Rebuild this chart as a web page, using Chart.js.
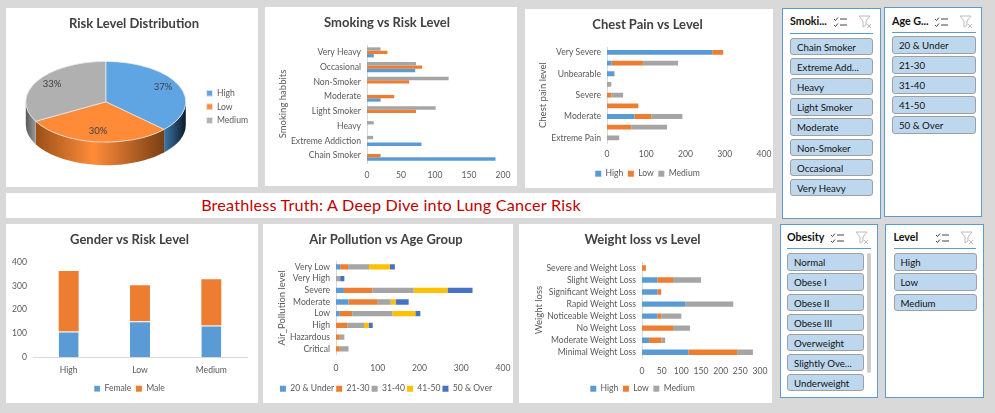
<!DOCTYPE html>
<html>
<head>
<meta charset="utf-8">
<title>Breathless Truth</title>
<script src="https://cdn.jsdelivr.net/npm/chart.js@4"></script>
<style>
    html, body { margin: 0; padding: 0; }
    body { width: 995px; height: 413px; background: #d9d9d9; position: relative; overflow: hidden; font-family: Lato, sans-serif; }
    .panel { position: absolute; background: #fff; }
    .panel canvas { display: block; }
    #banner { left: 6px; top: 193px; width: 770px; height: 25px; line-height: 24px; text-align: center; color: #c00000; font-size: 16.2px; letter-spacing: 0.2px; }
    .slicer { position: absolute; background: #fff; border: 1px solid #5b9bd5; box-sizing: border-box; overflow: hidden; }
    .slicer .head { position: absolute; font-weight: 700; font-size: 10.7px; color: #111; white-space: nowrap; }
    .slicer .rule { position: absolute; height: 1px; background: #5b9bd5; }
    .slicer svg { position: absolute; }
    .slicer .btn { position: absolute; height: 17.5px; line-height: 16px; box-sizing: border-box; background: #bdd7ee; border: 1px solid #a0a0a0; border-radius: 3px; padding-left: 6px; font-size: 9.7px; color: #111; white-space: nowrap; overflow: hidden; }
    .slicer .scroll { position: absolute; background: #cdcdcd; width: 4px; border-radius: 2px; }
</style>
</head>
<body>
<div class="panel" style="left:6px;top:8px;width:252px;height:179px"><canvas id="pie-chart"></canvas></div>
<div class="panel" style="left:265px;top:7px;width:252px;height:179px"><canvas id="smoking-chart"></canvas></div>
<div class="panel" style="left:525px;top:9px;width:248px;height:179px"><canvas id="chest-chart"></canvas></div>
<div class="panel" id="banner">Breathless Truth: A Deep Dive into Lung Cancer Risk</div>
<div class="panel" style="left:6px;top:224px;width:252px;height:179px"><canvas id="gender-chart"></canvas></div>
<div class="panel" style="left:263px;top:224px;width:250px;height:179px"><canvas id="air-chart"></canvas></div>
<div class="panel" style="left:519px;top:224px;width:253px;height:179px"><canvas id="weight-chart"></canvas></div>

<script>
// Data
const levelNames = ['High', 'Low', 'Medium'];
const levelShares = [37, 30, 33];

const smokingLabels = ['Chain Smoker', 'Extreme Addiction', 'Heavy', 'Light Smoker', 'Moderate', 'Non-Smoker', 'Occasional', 'Very Heavy'];
const smokingHigh = [189, 80, 0, 0, 20, 0, 71, 10];
const smokingLow = [20, 0, 0, 72, 40, 62, 81, 30];
const smokingMedium = [0, 9, 10, 101, 0, 120, 72, 20];

// every second name is skipped on the axis of the original
const chestLabels = ['Extreme Pain', '', 'Moderate', '', 'Severe', '', 'Unbearable', '', 'Very Severe'];
const chestHigh = [0, 0, 70, 0, 0, 0, 19, 12, 268];
const chestLow = [0, 62, 43, 80, 11, 0, 0, 80, 28];
const chestMedium = [31, 91, 79, 0, 30, 11, 0, 89, 0];

const genderFemale = [108, 151, 133];
const genderMale = [254, 151, 195];

const airLabels = ['Critical', 'Hazardous', 'High', 'Low', 'Moderate', 'Severe', 'Very High', 'Very Low'];
const ageNames = ['20 & Under', '21-30', '31-40', '41-50', '50 & Over'];
const airUnder20 = [0, 0, 0, 9, 30, 19, 0, 10];
const air21to30 = [9, 9, 27, 30, 70, 68, 0, 19];
const air31to40 = [21, 11, 40, 96, 31, 99, 10, 50];
const air41to50 = [0, 0, 12, 55, 12, 81, 0, 50];
const airOver50 = [0, 0, 9, 12, 31, 60, 10, 12];

const weightLabels = ['Minimal Weight Loss', 'Moderate Weight Loss', 'No Weight Loss', 'Noticeable Weight Loss', 'Rapid Weight Loss', 'Significant Weight Loss', 'Slight Weight Loss', 'Severe and Weight Loss'];
const weightHigh = [118, 18, 0, 39, 110, 39, 39, 0];
const weightLow = [124, 31, 79, 10, 0, 10, 40, 10];
const weightMedium = [40, 10, 43, 51, 122, 0, 71, 0];

const smokingSlicer = ['Chain Smoker', 'Extreme Add...', 'Heavy', 'Light Smoker', 'Moderate', 'Non-Smoker', 'Occasional', 'Very Heavy'];
const ageSlicer = ['20 & Under', '21-30', '31-40', '41-50', '50 & Over'];
const obesitySlicer = ['Normal', 'Obese I', 'Obese II', 'Obese III', 'Overweight', 'Slightly Ove...', 'Underweight'];
const levelSlicer = ['High', 'Low', 'Medium'];

// Colors
const BLUE = '#5b9bd5', ORANGE = '#ed7d31', GREY = '#a5a5a5', GOLD = '#ffc000', DARKBLUE = '#4472c4';
const TEXT = '#595959', TITLE = '#404040';
const FONT = 'Lato';
const TICK_SIZE = 8.6;

Chart.defaults.animation = false;
Chart.defaults.responsive = false;
Chart.defaults.font.family = FONT;
Chart.defaults.devicePixelRatio = 1;

function sizeCanvas(id) {
    const canvas = document.getElementById(id);
    canvas.width = canvas.parentElement.clientWidth;
    canvas.height = canvas.parentElement.clientHeight;
    return canvas;
}

function titleOptions(text, top, bottom) {
    return {
        display: true,
        text: text,
        color: TITLE,
        font: { family: FONT, size: 13, weight: 'bold' },
        padding: { top: top, bottom: bottom }
    };
}

function legendOptions(position, gap, fullSize) {
    return {
        display: true,
        position: position,
        fullSize: fullSize,
        labels: {
            boxWidth: 6,
            boxHeight: 6,
            padding: gap,
            color: TEXT,
            font: { family: FONT, size: TICK_SIZE }
        }
    };
}

// Horizontal or vertical bars, box = plot edges inside the panel
function barChart(id, cfg) {
    const canvas = sizeCanvas(id);
    const box = cfg.box;
    const H = canvas.height;
    const horizontal = cfg.horizontal !== false;
    const padBottom = cfg.legend === false ? 4 : 0;
    const legendGap = cfg.legendGap || 4.5;
    // room for one legend row, label line plus padding around it
    const legendRoom = cfg.legend === false ? 0 : TICK_SIZE * 1.2 + legendGap * 2 + 5;
    const fitBottom = function(scale) { scale.height = H - box.bottom - padBottom - legendRoom; };
    const fitLeft = function(scale) { scale.width = box.left - 6; };
    // gap to the labels comes from tickLength: ticks.padding would also eat into the plot width
    const valueAxis = {
        stacked: !!cfg.stacked,
        min: 0,
        max: cfg.max,
        grid: { display: false, drawTicks: true, tickLength: cfg.tickGap },
        border: { display: false },
        ticks: { stepSize: cfg.step, maxRotation: 0, minRotation: 0, color: TEXT, font: { size: TICK_SIZE }, padding: 0 }
    };
    const categoryAxis = {
        stacked: !!cfg.stacked,
        grid: { display: false, drawTicks: false },
        border: { display: true, color: '#d9d9d9' },
        ticks: { autoSkip: false, maxRotation: 0, minRotation: 0, color: TEXT, font: { size: TICK_SIZE }, padding: horizontal ? 6 : 8 }
    };
    if (horizontal) {
        categoryAxis.reverse = true;
        categoryAxis.afterFit = fitLeft;
        valueAxis.afterFit = fitBottom;
        if (cfg.axisTitle) {
            categoryAxis.title = { display: true, text: cfg.axisTitle, color: TEXT, font: { size: 9.5 }, padding: { top: cfg.axisTitleGap || 0, bottom: 0 } };
        }
    } else {
        valueAxis.afterFit = fitLeft;
        categoryAxis.afterFit = fitBottom;
    }
    return new Chart(canvas, {
        type: 'bar',
        data: { labels: cfg.labels, datasets: cfg.datasets },
        options: {
            indexAxis: horizontal ? 'y' : 'x',
            layout: { padding: { left: 6, right: canvas.width - box.right, top: 0, bottom: padBottom } },
            scales: horizontal ? { x: valueAxis, y: categoryAxis } : { x: categoryAxis, y: valueAxis },
            plugins: {
                title: titleOptions(cfg.title, 8, box.top - 8 - 15.6),
                legend: cfg.legend === false ? { display: false } : legendOptions('bottom', legendGap, true),
                tooltip: { enabled: false }
            }
        }
    });
}

function series(label, data, color, extra) {
    return Object.assign({ label: label, data: data, backgroundColor: color }, extra);
}

// 3D look for the pie: squash the arcs and draw the side wall under them
const PIE_TILT = 0.505;
const PIE_DEPTH = 23;
const PIE_LIFT = 5;
const wallStops = [
    [[0, '#3f76a8'], [1, '#0b1a29']],
    [[0, '#9c5018'], [0.45, '#ff8c3a'], [1, '#7a3f14']],
    [[0, '#585858'], [1, '#9a9a9a']]
];

const pie3d = {
    id: 'pie3d',
    beforeDatasetsDraw(chart) {
        const ctx = chart.ctx;
        const arcs = chart.getDatasetMeta(0).data;
        arcs.forEach((arc, i) => {
            const a0 = Math.max(arc.startAngle, 0);
            const a1 = Math.min(arc.endAngle, Math.PI);
            if (a1 <= a0) return;
            const rx = arc.outerRadius, ry = rx * PIE_TILT;
            const cy = arc.y - PIE_LIFT;
            const grad = ctx.createLinearGradient(arc.x + rx * Math.cos(a1), 0, arc.x + rx * Math.cos(a0), 0);
            wallStops[i].forEach(s => grad.addColorStop(s[0], s[1]));
            ctx.beginPath();
            ctx.ellipse(arc.x, cy, rx, ry, 0, a0, a1);
            ctx.ellipse(arc.x, cy + PIE_DEPTH, rx, ry, 0, a1, a0, true);
            ctx.closePath();
            ctx.fillStyle = grad;
            ctx.fill();
        });
        const first = arcs[0];
        ctx.save();
        ctx.translate(first.x, first.y - PIE_LIFT);
        ctx.scale(1, PIE_TILT);
        ctx.translate(-first.x, -first.y);
    },
    afterDatasetsDraw(chart) {
        const ctx = chart.ctx;
        ctx.restore();
        chart.getDatasetMeta(0).data.forEach((arc, i) => {
            const mid = (arc.startAngle + arc.endAngle) / 2;
            const r = arc.outerRadius * 0.78;
            ctx.fillStyle = '#404040';
            ctx.font = '9.5px ' + FONT;
            ctx.textAlign = 'center';
            ctx.textBaseline = 'middle';
            ctx.fillText(levelShares[i] + '%', arc.x + r * Math.cos(mid), arc.y - PIE_LIFT + r * Math.sin(mid) * PIE_TILT - 2);
        });
    }
};

new Chart(sizeCanvas('pie-chart'), {
    type: 'pie',
    data: {
        labels: levelNames,
        datasets: [{
            data: levelShares,
            backgroundColor: ['#5fa5e3', '#ff8a38', '#b0b0b0'],
            borderColor: '#e8e8e8',
            borderWidth: 1,
            radius: 80,
            clip: false
        }]
    },
    options: {
        layout: { padding: { left: 4, right: 0, top: 0, bottom: 13 } },
        plugins: {
            title: titleOptions('Risk Level Distribution', 8, 8),
            legend: legendOptions('right', 5, false),
            tooltip: { enabled: false }
        }
    },
    plugins: [pie3d]
});

const groupedBar = { categoryPercentage: 0.68, barPercentage: 1 };

// grouped bars run top to bottom on the reversed axis, so Medium comes first
barChart('smoking-chart', {
    title: 'Smoking vs Risk Level',
    legend: false,
    box: { left: 102, right: 238, top: 38, bottom: 156 },
    labels: smokingLabels,
    max: 200, step: 50, tickGap: 7,
    axisTitle: 'Smoking habbits', axisTitleGap: 6,
    datasets: [
        series('Medium', smokingMedium, GREY, groupedBar),
        series('Low', smokingLow, ORANGE, groupedBar),
        series('High', smokingHigh, BLUE, groupedBar)
    ]
});

const stackedBar = { categoryPercentage: 0.45, barPercentage: 1 };

barChart('chest-chart', {
    title: 'Chest Pain vs Level',
    box: { left: 82, right: 239, top: 38, bottom: 133 },
    labels: chestLabels,
    stacked: true,
    max: 400, step: 100, tickGap: 6,
    axisTitle: 'Chest pain level', axisTitleGap: 6,
    datasets: [
        series('High', chestHigh, BLUE, stackedBar),
        series('Low', chestLow, ORANGE, stackedBar),
        series('Medium', chestMedium, GREY, stackedBar)
    ]
});

barChart('gender-chart', {
    title: 'Gender vs Risk Level',
    horizontal: false,
    box: { left: 27, right: 241, top: 38, bottom: 132 },
    labels: levelNames,
    stacked: true,
    max: 400, step: 100, tickGap: 6,
    datasets: [
        series('Female', genderFemale, BLUE, { categoryPercentage: 0.28, barPercentage: 1, borderColor: '#fff', borderWidth: { top: 1 } }),
        series('Male', genderMale, ORANGE, { categoryPercentage: 0.28, barPercentage: 1 })
    ]
});

barChart('air-chart', {
    title: 'Air Pollution vs Age Group',
    box: { left: 73, right: 240, top: 37, bottom: 132 },
    labels: airLabels,
    stacked: true,
    max: 400, step: 100, tickGap: 8,
    axisTitle: 'Air_Pollution level', axisTitleGap: 7,
    legendGap: 2,
    datasets: [
        series(ageNames[0], airUnder20, BLUE, stackedBar),
        series(ageNames[1], air21to30, ORANGE, stackedBar),
        series(ageNames[2], air31to40, GREY, stackedBar),
        series(ageNames[3], air41to50, GOLD, stackedBar),
        series(ageNames[4], airOver50, DARKBLUE, stackedBar)
    ]
});

barChart('weight-chart', {
    title: 'Weight loss vs Level',
    box: { left: 123, right: 241, top: 38, bottom: 133 },
    labels: weightLabels,
    stacked: true,
    max: 300, step: 50, tickGap: 8,
    axisTitle: 'Weight loss', axisTitleGap: 8,
    datasets: [
        series('High', weightHigh, BLUE, stackedBar),
        series('Low', weightLow, ORANGE, stackedBar),
        series('Medium', weightMedium, GREY, stackedBar)
    ]
});

// Slicer panels
const ICON_SELECT = '<path d="M1 3l1.5 1.5L5 1.5M1 9l1.5 1.5L5 7.5" fill="none" stroke="#444" stroke-width="1"/><path d="M7 3h7M7 9h7" stroke="#444" stroke-width="1"/>';
const ICON_CLEAR = '<path d="M1 1h11L8 6v4l-3 2V6z" fill="none" stroke="#bbb" stroke-width="1"/><path d="M9 9l4 4M13 9l-4 4" stroke="#bbb" stroke-width="1"/>';

function slicer(o) {
    const el = document.createElement('div');
    el.className = 'slicer';
    el.style.cssText = `left:${o.x}px;top:${o.y}px;width:${o.w}px;height:${o.h}px`;
    let html = `<div class="head" style="left:${o.bx - o.x - 1}px;top:${o.headY - o.y - 1}px">${o.head}</div>`;
    html += `<svg style="left:${o.iconX - o.x - 1}px;top:${o.headY - o.y + 1}px" width="15" height="13">${ICON_SELECT}</svg>`;
    html += `<svg style="left:${o.iconX + 25 - o.x - 1}px;top:${o.headY - o.y}px" width="15" height="15">${ICON_CLEAR}</svg>`;
    html += `<div class="rule" style="left:${o.bx - o.x - 1}px;top:${o.ruleY - o.y - 1}px;width:${o.ruleW}px"></div>`;
    o.items.forEach((item, i) => {
        html += `<div class="btn" style="left:${o.bx - o.x - 1}px;top:${o.by + i * o.gap - o.y - 1}px;width:${o.bw}px">${item.replace('&', '&amp;')}</div>`;
    });
    if (o.clip) html += `<div style="position:absolute;left:0;right:0;top:${o.clip - o.y - 1}px;bottom:0;background:#fff"></div>`;
    if (o.scroll) html += `<div class="scroll" style="left:${o.scroll[0] - o.x - 1}px;top:${o.scroll[1] - o.y - 1}px;height:${o.scroll[2]}px"></div>`;
    el.innerHTML = html;
    document.body.appendChild(el);
}

slicer({ x: 782, y: 8, w: 99, h: 211, head: 'Smoki...', headY: 14, iconX: 833, bx: 790, by: 37.5, bw: 83, gap: 20.2, ruleY: 33, ruleW: 83, items: smokingSlicer });
slicer({ x: 884, y: 7, w: 98, h: 210, head: 'Age G...', headY: 14, iconX: 934, bx: 892, by: 36, bw: 84, gap: 20.1, ruleY: 32, ruleW: 84, items: ageSlicer });
slicer({ x: 780, y: 224, w: 98, h: 174, head: 'Obesity', headY: 230, iconX: 830, bx: 787, by: 253.3, bw: 77, gap: 20.1, ruleY: 248, ruleW: 84, items: obesitySlicer, clip: 391, scroll: [867, 253, 120] });
slicer({ x: 885, y: 224, w: 99, h: 174, head: 'Level', headY: 230, iconX: 935, bx: 893.5, by: 253.3, bw: 83, gap: 20.1, ruleY: 248, ruleW: 82, items: levelSlicer });
</script>
</body>
</html>
